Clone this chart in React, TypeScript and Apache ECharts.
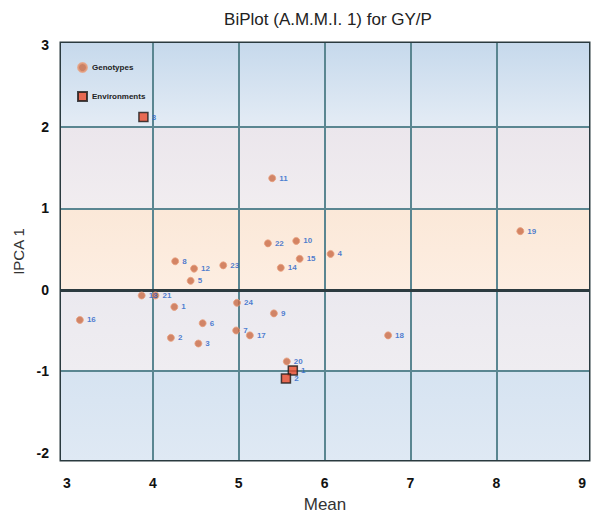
import React, { useEffect, useRef } from "react";
import * as echarts from "echarts";

const genotypeIds = ["1","2","3","4","5","6","7","8","9","10","11","12","13","14","15","16","17","18","19","20","21","22","23","24"];
const genotypeMean = [4.25, 4.21, 4.53, 6.07, 4.44, 4.58, 4.97, 4.26, 5.41, 5.67, 5.39, 4.48, 3.87, 5.49, 5.71, 3.15, 5.13, 6.74, 8.28, 5.56, 4.03, 5.34, 4.82, 4.98];
const genotypeIPCA = [-0.21, -0.59, -0.66, 0.44, 0.11, -0.41, -0.50, 0.35, -0.29, 0.60, 1.37, 0.26, -0.07, 0.27, 0.38, -0.37, -0.56, -0.56, 0.72, -0.88, -0.07, 0.57, 0.30, -0.16];

const envIds = ["3", "1", "2"];
const envMean = [3.89, 5.63, 5.55];
const envIPCA = [2.12, -0.99, -1.09];

const xTicks = [3, 4, 5, 6, 7, 8, 9];
const yTicks = [-2, -1, 0, 1, 2, 3];
const vLines = [4, 5, 6, 7, 8];
const hLines = [2, 1, -1];
const bandEdges = [3.03, 2, 1, 0, -1, -2.09];
const bandTopColors = ["#c6d9ec", "#ebe6ec", "#fbe8d8", "#ebe9ef", "#d6e3f1"];
const bandBottomColors = ["#e4ecf5", "#f1edf0", "#fdeee2", "#efedf1", "#dfe9f4"];

export default function App() {
  const ref = useRef<HTMLDivElement>(null);
  useEffect(() => {
    if (!ref.current) return;
    const chart = echarts.init(ref.current, undefined, { renderer: "svg" });
    const genoData = genotypeIds.map((id, i) => ({ name: id, value: [genotypeMean[i], genotypeIPCA[i]] }));
    const envData = envIds.map((id, i) => ({ name: id, value: [envMean[i], envIPCA[i]] }));
    const bands = bandTopColors.map((c, i) => [
      {
        yAxis: bandEdges[i + 1],
        itemStyle: {
          color: new echarts.graphic.LinearGradient(0, 0, 0, 1, [
            { offset: 0, color: c },
            { offset: 1, color: bandBottomColors[i] },
          ]),
        },
      },
      { yAxis: bandEdges[i] },
    ]);
    const gridLineData = [
      ...vLines.map((v) => ({ xAxis: v, lineStyle: { color: "#5a8691", width: 2, type: "solid" } })),
      ...hLines.map((v) => ({ yAxis: v, lineStyle: { color: "#5a8691", width: 2, type: "solid" } })),
      { yAxis: 0, lineStyle: { color: "#2c3b40", width: 3, type: "solid" } },
    ];
    const labelStyle = {
      show: true,
      position: "right",
      distance: 3,
      formatter: (p: any) => p.name,
      fontSize: 8,
      fontWeight: "bold",
      color: "#1f5fc8",
      fontFamily: "Liberation Sans",
    };
    chart.setOption({
      animation: false,
      backgroundColor: "#ffffff",
      title: {
        text: "BiPlot (A.M.M.I. 1) for GY/P",
        left: 323,
        textAlign: "center",
        top: 6,
        textStyle: { fontSize: 17, fontWeight: "normal", color: "#222", fontFamily: "Liberation Sans" },
      },
      legend: {
        orient: "vertical",
        left: 72,
        top: 57,
        itemGap: 18,
        itemWidth: 9,
        itemHeight: 9,
        textStyle: { fontSize: 8, fontWeight: "bold", color: "#222", fontFamily: "Liberation Sans" },
        data: ["Genotypes", "Environments"],
      },
      grid: {
        left: 61,
        right: 9,
        top: 43,
        bottom: 55,
        show: true,
        borderColor: "#2a3a3f",
        borderWidth: 3,
        backgroundColor: "transparent",
      },
      xAxis: {
        type: "value",
        min: 2.93,
        max: 9.08,
        name: "Mean",
        nameLocation: "middle",
        nameGap: 36,
        nameTextStyle: { fontSize: 17, color: "#333", fontFamily: "Liberation Sans" },
        axisLine: { show: false },
        axisTick: { show: false, customValues: xTicks },
        splitLine: { show: false },
        axisLabel: {
          customValues: xTicks,
          margin: 16,
          fontSize: 14,
          fontWeight: "bold",
          color: "#111",
          fontFamily: "Liberation Sans",
        },
      },
      yAxis: {
        type: "value",
        min: -2.09,
        max: 3.03,
        name: "IPCA 1",
        nameLocation: "middle",
        nameGap: 34,
        nameTextStyle: { fontSize: 15, color: "#333", fontFamily: "Liberation Sans" },
        axisLine: { show: false },
        axisTick: { show: false, customValues: yTicks },
        splitLine: { show: false },
        axisLabel: {
          customValues: yTicks,
          margin: 12,
          fontSize: 14,
          fontWeight: "bold",
          color: "#111",
          fontFamily: "Liberation Sans",
        },
      },
      series: [
        {
          name: "bands",
          type: "scatter",
          data: [],
          silent: true,
          z: 1,
          markArea: { silent: true, data: bands },
          markLine: { silent: true, symbol: "none", label: { show: false }, data: gridLineData },
        },
        {
          name: "Genotypes",
          type: "scatter",
          symbol: "circle",
          symbolSize: 7,
          z: 5,
          itemStyle: { color: "#c96a45", borderColor: "#e8a07e", borderWidth: 1 },
          label: labelStyle,
          data: genoData,
        },
        {
          name: "Environments",
          type: "scatter",
          symbol: "rect",
          symbolSize: 9,
          z: 6,
          itemStyle: { color: "#ea4a2a", borderColor: "#1a1a1a", borderWidth: 1.5 },
          label: labelStyle,
          data: envData,
        },
      ],
    });
    return () => chart.dispose();
  }, []);
  return <div ref={ref} style={{ width: 598, height: 518, position: "absolute", left: 0, top: 0 }} />;
}
